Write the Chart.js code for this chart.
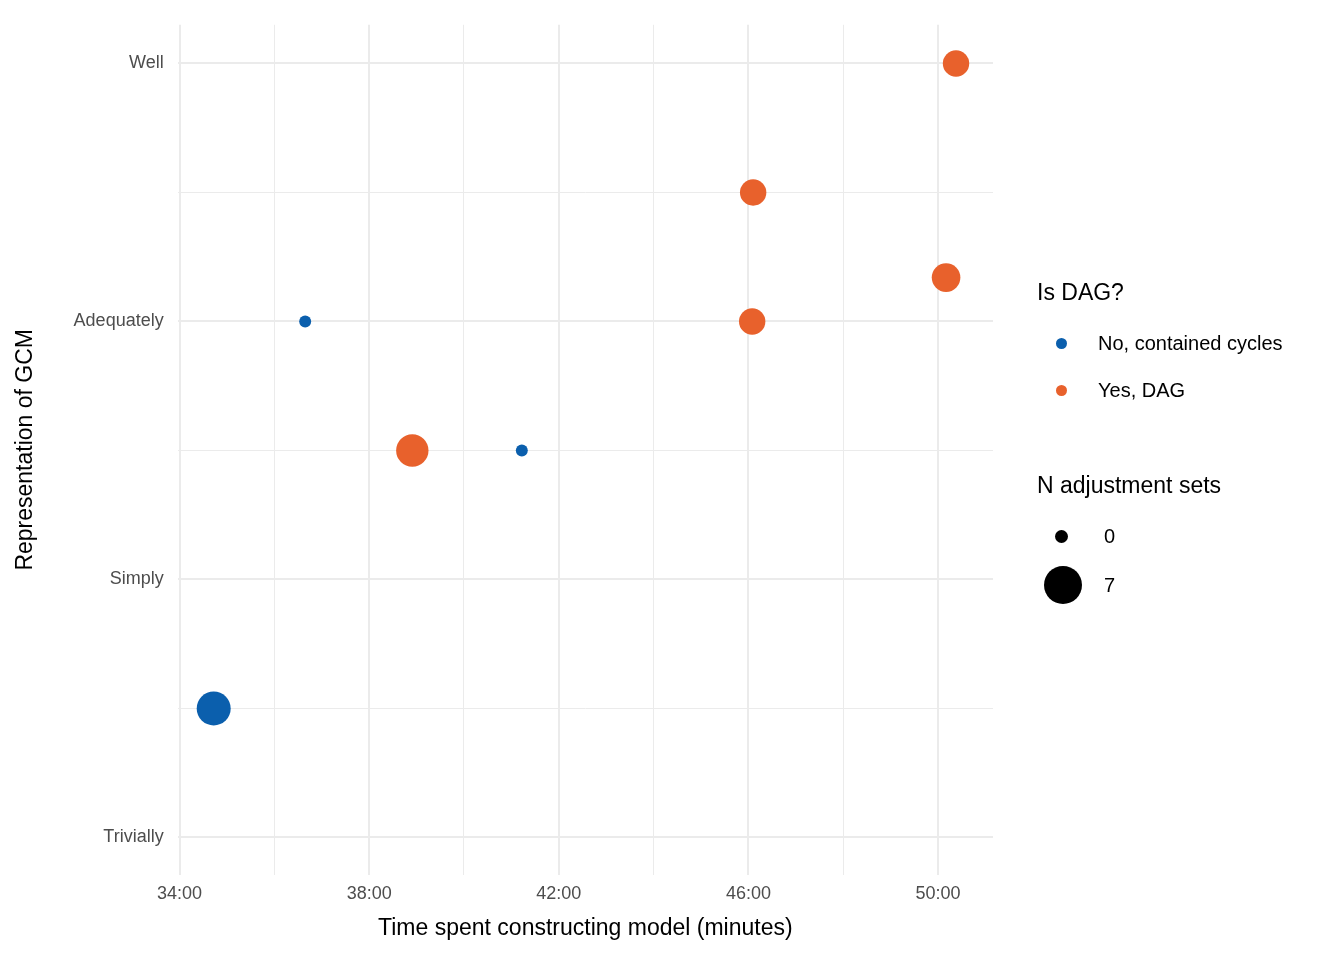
<!DOCTYPE html>
<html>
<head>
<meta charset="utf-8">
<script src="https://cdn.jsdelivr.net/npm/chart.js@4"></script>
<style>
  body { margin: 0; background: #fff; font-family: "Liberation Sans", Arial, sans-serif; }
  #wrap { position: relative; width: 1344px; height: 960px; }
  .lg { position: absolute; color: #000; }
  .ttl { font-size: 23px; }
  .item { font-size: 20px; }
  .dot { position: absolute; border-radius: 50%; }
</style>
</head>
<body>
<div id="wrap">
  <canvas id="c" width="1344" height="960"></canvas>
  <div class="lg ttl" style="left:1037px; top:279px;">Is DAG?</div>
  <div class="dot" style="left:1056px; top:338px; width:11px; height:11px; background:#0b5fad;"></div>
  <div class="lg item" style="left:1098px; top:332px;">No, contained cycles</div>
  <div class="dot" style="left:1056px; top:385px; width:11px; height:11px; background:#e8612c;"></div>
  <div class="lg item" style="left:1098px; top:379px;">Yes, DAG</div>
  <div class="lg ttl" style="left:1037px; top:472px;">N adjustment sets</div>
  <div class="dot" style="left:1055px; top:530px; width:13px; height:13px; background:#000;"></div>
  <div class="lg item" style="left:1104px; top:525px;">0</div>
  <div class="dot" style="left:1044px; top:566px; width:38px; height:38px; background:#000;"></div>
  <div class="lg item" style="left:1104px; top:574px;">7</div>
</div>
<script>
// time in minutes, representation level (1 = Trivially .. 4 = Well), adjustment sets
const yLabels = ['Trivially', 'Simply', 'Adequately', 'Well'];
const cycleTimes = [34.72, 36.65, 41.22];
const cycleLevels = [1.5, 3, 2.5];
const cycleSets = [7, 0, 0];
const dagTimes = [38.91, 46.08, 46.1, 50.17, 50.38];
const dagLevels = [2.5, 3, 3.5, 3.17, 4];
const dagSets = [6, 3, 3, 4, 3];

const radius = n => 6 + 11 * Math.sqrt(n / 7);
const toPoints = (xs, ys) => xs.map((x, i) => ({ x: x, y: ys[i] }));
const fmt = v => String(Math.floor(v)).padStart(2, '0') + ':00';

new Chart(document.getElementById('c'), {
    type: 'scatter',
    data: {
        datasets: [
            {
                data: toPoints(cycleTimes, cycleLevels),
                backgroundColor: '#0b5fad',
                pointRadius: cycleSets.map(radius),
                pointHoverRadius: cycleSets.map(radius),
                borderWidth: 0
            },
            {
                data: toPoints(dagTimes, dagLevels),
                backgroundColor: '#e8612c',
                pointRadius: dagSets.map(radius),
                pointHoverRadius: dagSets.map(radius),
                borderWidth: 0
            }
        ]
    },
    options: {
        responsive: false,
        animation: false,
        layout: { padding: { left: 8, right: 351, top: 5, bottom: 14 } },
        plugins: { legend: { display: false }, tooltip: { enabled: false } },
        scales: {
            x: {
                min: 33.96, max: 51.16,
                afterBuildTicks: ax => { ax.ticks = [34, 36, 38, 40, 42, 44, 46, 48, 50].map(v => ({ value: v })); },
                border: { display: false },
                grid: {
                    color: '#ebebeb',
                    lineWidth: c => ((c.tick.value - 34) % 4 === 0 ? 2 : 1),
                    drawTicks: false
                },
                ticks: {
                    autoSkip: false, maxRotation: 0, padding: 8,
                    color: '#4d4d4d', font: { size: 18, family: 'Liberation Sans' },
                    callback: v => ((v - 34) % 4 === 0 ? fmt(v) : '')
                },
                title: { display: true, text: 'Time spent constructing model (minutes)', color: '#000',
                         font: { size: 23, family: 'Liberation Sans' }, padding: { top: 2 } }
            },
            y: {
                min: 0.855, max: 4.15,
                afterBuildTicks: ax => { ax.ticks = [1, 1.5, 2, 2.5, 3, 3.5, 4].map(v => ({ value: v })); },
                border: { display: false },
                grid: {
                    color: '#ebebeb',
                    lineWidth: c => (Number.isInteger(c.tick.value) ? 2 : 1),
                    drawTicks: false
                },
                ticks: {
                    autoSkip: false, padding: 14,
                    color: '#4d4d4d', font: { size: 18, family: 'Liberation Sans' },
                    callback: v => (Number.isInteger(v) ? yLabels[v - 1] : '')
                },
                title: { display: true, text: 'Representation of GCM', color: '#000',
                         font: { size: 23, family: 'Liberation Sans' }, padding: { bottom: 20 } }
            }
        }
    }
});
</script>
</body>
</html>
